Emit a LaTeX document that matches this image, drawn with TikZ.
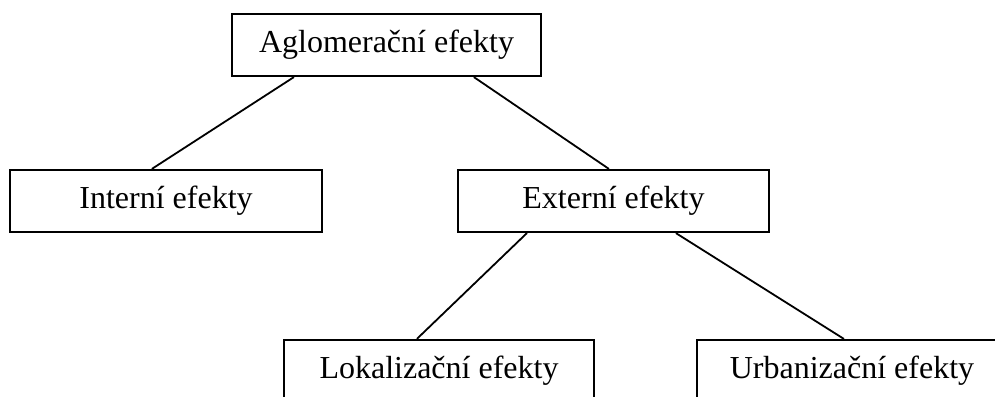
\documentclass[tikz,border=0pt]{standalone}
\usepackage{fontspec}
\setmainfont{Liberation Serif}
\tikzset{
  efekt/.style = {draw, line width=2.2pt, minimum width=310pt, minimum height=62pt,
                  inner sep=0pt, font=\fontsize{32}{38}\selectfont},
  vazba/.style = {line width=1.8pt}
}
\begin{document}
\begin{tikzpicture} [x = 1pt, y = -1pt]
            \clip (0, 0) rectangle (995, 396) ;

            % Hauptknoten
            \node [efekt, minimum width=309pt] (aglo) at (386.5, 45) {Aglomerační efekty} ;

            % Zweite Ebene
            \node [efekt, minimum width=312pt] (intern) at (166, 201) {Interní efekty} ;
            \node [efekt, minimum width=311pt] (extern) at (613.5, 201) {Externí efekty} ;

            % Dritte Ebene
            \node [efekt] (lokal) at (439, 371) {Lokalizační efekty} ;
            \node [efekt] (urban) at (852, 371) {Urbanizační efekty} ;

            % Verbindungen
            \draw [vazba] ([xshift=63pt] aglo.south west) -- ([xshift=143pt] intern.north west) ;
            \draw [vazba] ([xshift=243pt] aglo.south west) -- ([xshift=152pt] extern.north west) ;
            \draw [vazba] ([xshift=70pt] extern.south west) -- ([xshift=134pt] lokal.north west) ;
            \draw [vazba] ([xshift=219pt] extern.south west) -- ([xshift=148pt] urban.north west) ;
        \end{tikzpicture}
\end{document}
